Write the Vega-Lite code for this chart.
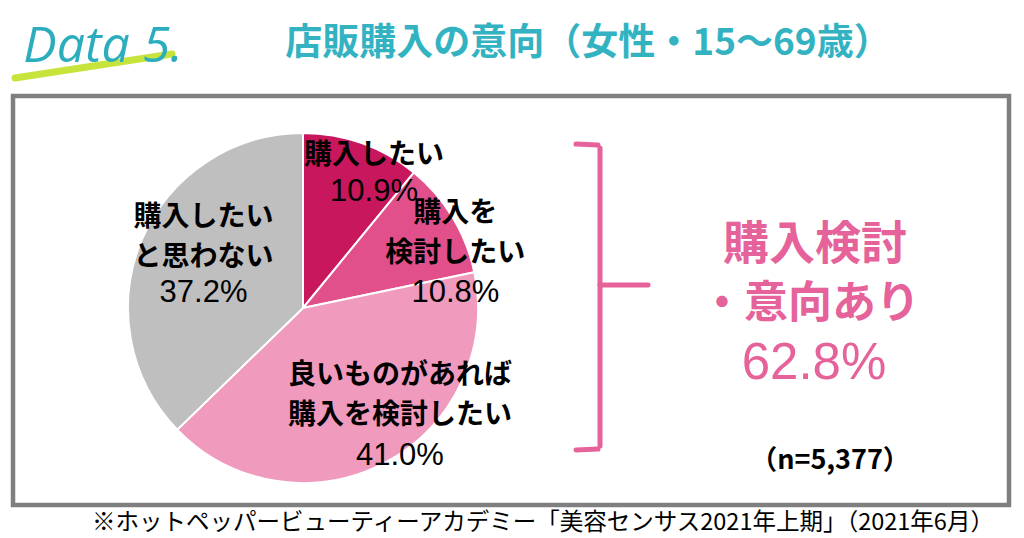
{
  "$schema": "https://vega.github.io/schema/vega-lite/v6.json",
  "width": 1024,
  "height": 538,
  "autosize": {"type": "fit", "contains": "padding"},
  "padding": 0,
  "background": "white",
  "config": {"view": {"stroke": null}, "font": "Noto Sans CJK JP"},
  "datasets": {
    "slices": [
      {"idx": 1, "cat": "購入したい", "lines": ["購入したい"], "share": 0.109},
      {"idx": 2, "cat": "購入を検討したい", "lines": ["購入を", "検討したい"], "share": 0.108},
      {"idx": 3, "cat": "良いものがあれば購入を検討したい", "lines": ["良いものがあれば", "購入を検討したい"], "share": 0.41},
      {"idx": 4, "cat": "購入したいと思わない", "lines": ["購入したい", "と思わない"], "share": 0.372}
    ],
    "one": [{}]
  },
  "layer": [
    {
      "data": {"name": "one"},
      "mark": {"type": "rule", "color": "#c6e43c", "strokeWidth": 7, "strokeCap": "round"},
      "encoding": {
        "x": {"datum": 15, "type": "quantitative", "scale": {"domain": [0, 1024], "nice": false, "zero": false}, "axis": null},
        "y": {"datum": 78, "type": "quantitative", "scale": {"domain": [0, 538], "reverse": true, "nice": false, "zero": false}, "axis": null},
        "x2": {"datum": 172},
        "y2": {"datum": 54}
      }
    },
    {
      "data": {"name": "one"},
      "mark": {"type": "text", "text": "Data 5.", "font": "Open Sans", "fontStyle": "italic", "fontWeight": 400, "fontSize": 50, "color": "#2badbe", "align": "center", "baseline": "alphabetic"},
      "encoding": {
        "x": {"datum": 103, "type": "quantitative", "scale": {"domain": [0, 1024], "nice": false, "zero": false}, "axis": null},
        "y": {"datum": 62, "type": "quantitative", "scale": {"domain": [0, 538], "reverse": true, "nice": false, "zero": false}, "axis": null}
      }
    },
    {
      "data": {"name": "one"},
      "mark": {"type": "text", "text": "店販購入の意向（女性・15～69歳）", "font": "Noto Sans CJK JP", "fontWeight": "bold", "fontSize": 37, "color": "#33b3c2", "align": "center", "baseline": "middle"},
      "encoding": {
        "x": {"datum": 588, "type": "quantitative", "scale": {"domain": [0, 1024], "nice": false, "zero": false}, "axis": null},
        "y": {"datum": 44, "type": "quantitative", "scale": {"domain": [0, 538], "reverse": true, "nice": false, "zero": false}, "axis": null}
      }
    },
    {
      "data": {"name": "one"},
      "mark": {"type": "rect", "filled": false, "stroke": "#7f7f7f", "strokeWidth": 4.5},
      "encoding": {
        "x": {"datum": 13, "type": "quantitative", "scale": {"domain": [0, 1024], "nice": false, "zero": false}, "axis": null},
        "y": {"datum": 96, "type": "quantitative", "scale": {"domain": [0, 538], "reverse": true, "nice": false, "zero": false}, "axis": null},
        "x2": {"datum": 1009},
        "y2": {"datum": 505}
      }
    },
    {
      "data": {"name": "slices"},
      "mark": {"type": "arc", "outerRadius": 175, "stroke": "white", "strokeWidth": 2},
      "encoding": {
        "x": {"datum": 303, "type": "quantitative", "scale": {"domain": [0, 1024], "nice": false, "zero": false}, "axis": null},
        "y": {"datum": 308, "type": "quantitative", "scale": {"domain": [0, 538], "reverse": true, "nice": false, "zero": false}, "axis": null},
        "theta": {"field": "share", "type": "quantitative", "stack": true},
        "order": {"field": "idx", "type": "quantitative"},
        "color": {"field": "cat", "type": "nominal", "legend": null, "scale": {"domain": ["購入したい", "購入を検討したい", "良いものがあれば購入を検討したい", "購入したいと思わない"], "range": ["#c8175d", "#e2508b", "#f09bbe", "#bfbfbf"]}}
      }
    },
    {
      "data": {"name": "slices"},
      "mark": {"type": "text", "radius": 146, "dx": 22, "dy": 0, "font": "Noto Sans CJK JP", "fontWeight": "bold", "fontSize": 28, "lineHeight": 40, "baseline": "bottom", "align": "center", "color": "black"},
      "encoding": {
        "x": {"datum": 303, "type": "quantitative", "scale": {"domain": [0, 1024], "nice": false, "zero": false}, "axis": null},
        "y": {"datum": 308, "type": "quantitative", "scale": {"domain": [0, 538], "reverse": true, "nice": false, "zero": false}, "axis": null},
        "theta": {"field": "share", "type": "quantitative", "stack": true},
        "order": {"field": "idx", "type": "quantitative"},
        "text": {"condition": {"test": "datum.idx === 1", "field": "lines", "type": "nominal"}, "value": ""}
      }
    },
    {
      "data": {"name": "slices"},
      "mark": {"type": "text", "radius": 146, "dx": 22, "dy": 7, "font": "Liberation Sans, Arial", "fontSize": 31, "baseline": "top", "align": "center", "color": "black"},
      "encoding": {
        "x": {"datum": 303, "type": "quantitative", "scale": {"domain": [0, 1024], "nice": false, "zero": false}, "axis": null},
        "y": {"datum": 308, "type": "quantitative", "scale": {"domain": [0, 538], "reverse": true, "nice": false, "zero": false}, "axis": null},
        "theta": {"field": "share", "type": "quantitative", "stack": true},
        "order": {"field": "idx", "type": "quantitative"},
        "text": {"condition": {"test": "datum.idx === 1", "field": "share", "type": "quantitative", "format": ".1%"}, "value": ""}
      }
    },
    {
      "data": {"name": "slices"},
      "mark": {"type": "text", "radius": 149, "dx": 25, "dy": -3, "font": "Noto Sans CJK JP", "fontWeight": "bold", "fontSize": 28, "lineHeight": 40, "baseline": "bottom", "align": "center", "color": "black"},
      "encoding": {
        "x": {"datum": 303, "type": "quantitative", "scale": {"domain": [0, 1024], "nice": false, "zero": false}, "axis": null},
        "y": {"datum": 308, "type": "quantitative", "scale": {"domain": [0, 538], "reverse": true, "nice": false, "zero": false}, "axis": null},
        "theta": {"field": "share", "type": "quantitative", "stack": true},
        "order": {"field": "idx", "type": "quantitative"},
        "text": {"condition": {"test": "datum.idx === 2", "field": "lines", "type": "nominal"}, "value": ""}
      }
    },
    {
      "data": {"name": "slices"},
      "mark": {"type": "text", "radius": 149, "dx": 25, "dy": 47, "font": "Liberation Sans, Arial", "fontSize": 31, "baseline": "top", "align": "center", "color": "black"},
      "encoding": {
        "x": {"datum": 303, "type": "quantitative", "scale": {"domain": [0, 1024], "nice": false, "zero": false}, "axis": null},
        "y": {"datum": 308, "type": "quantitative", "scale": {"domain": [0, 538], "reverse": true, "nice": false, "zero": false}, "axis": null},
        "theta": {"field": "share", "type": "quantitative", "stack": true},
        "order": {"field": "idx", "type": "quantitative"},
        "text": {"condition": {"test": "datum.idx === 2", "field": "share", "type": "quantitative", "format": ".1%"}, "value": ""}
      }
    },
    {
      "data": {"name": "slices"},
      "mark": {"type": "text", "radius": 145, "dx": 29, "dy": -46, "font": "Noto Sans CJK JP", "fontWeight": "bold", "fontSize": 28, "lineHeight": 40, "baseline": "bottom", "align": "center", "color": "black"},
      "encoding": {
        "x": {"datum": 303, "type": "quantitative", "scale": {"domain": [0, 1024], "nice": false, "zero": false}, "axis": null},
        "y": {"datum": 308, "type": "quantitative", "scale": {"domain": [0, 538], "reverse": true, "nice": false, "zero": false}, "axis": null},
        "theta": {"field": "share", "type": "quantitative", "stack": true},
        "order": {"field": "idx", "type": "quantitative"},
        "text": {"condition": {"test": "datum.idx === 3", "field": "lines", "type": "nominal"}, "value": ""}
      }
    },
    {
      "data": {"name": "slices"},
      "mark": {"type": "text", "radius": 145, "dx": 29, "dy": 5, "font": "Liberation Sans, Arial", "fontSize": 31, "baseline": "top", "align": "center", "color": "black"},
      "encoding": {
        "x": {"datum": 303, "type": "quantitative", "scale": {"domain": [0, 1024], "nice": false, "zero": false}, "axis": null},
        "y": {"datum": 308, "type": "quantitative", "scale": {"domain": [0, 538], "reverse": true, "nice": false, "zero": false}, "axis": null},
        "theta": {"field": "share", "type": "quantitative", "stack": true},
        "order": {"field": "idx", "type": "quantitative"},
        "text": {"condition": {"test": "datum.idx === 3", "field": "share", "type": "quantitative", "format": ".1%"}, "value": ""}
      }
    },
    {
      "data": {"name": "slices"},
      "mark": {"type": "text", "radius": 108, "dx": 0, "dy": -34, "font": "Noto Sans CJK JP", "fontWeight": "bold", "fontSize": 28, "lineHeight": 40, "baseline": "bottom", "align": "center", "color": "black"},
      "encoding": {
        "x": {"datum": 303, "type": "quantitative", "scale": {"domain": [0, 1024], "nice": false, "zero": false}, "axis": null},
        "y": {"datum": 308, "type": "quantitative", "scale": {"domain": [0, 538], "reverse": true, "nice": false, "zero": false}, "axis": null},
        "theta": {"field": "share", "type": "quantitative", "stack": true},
        "order": {"field": "idx", "type": "quantitative"},
        "text": {"condition": {"test": "datum.idx === 4", "field": "lines", "type": "nominal"}, "value": ""}
      }
    },
    {
      "data": {"name": "slices"},
      "mark": {"type": "text", "radius": 108, "dx": 0, "dy": 12, "font": "Liberation Sans, Arial", "fontSize": 31, "baseline": "top", "align": "center", "color": "black"},
      "encoding": {
        "x": {"datum": 303, "type": "quantitative", "scale": {"domain": [0, 1024], "nice": false, "zero": false}, "axis": null},
        "y": {"datum": 308, "type": "quantitative", "scale": {"domain": [0, 538], "reverse": true, "nice": false, "zero": false}, "axis": null},
        "theta": {"field": "share", "type": "quantitative", "stack": true},
        "order": {"field": "idx", "type": "quantitative"},
        "text": {"condition": {"test": "datum.idx === 4", "field": "share", "type": "quantitative", "format": ".1%"}, "value": ""}
      }
    },
    {
      "data": {"name": "one"},
      "mark": {"type": "rule", "color": "#e5629a", "strokeWidth": 5, "strokeCap": "round"},
      "encoding": {
        "x": {"datum": 576, "type": "quantitative", "scale": {"domain": [0, 1024], "nice": false, "zero": false}, "axis": null},
        "y": {"datum": 144, "type": "quantitative", "scale": {"domain": [0, 538], "reverse": true, "nice": false, "zero": false}, "axis": null},
        "x2": {"datum": 598},
        "y2": {"datum": 145}
      }
    },
    {
      "data": {"name": "one"},
      "mark": {"type": "rule", "color": "#e5629a", "strokeWidth": 5, "strokeCap": "round"},
      "encoding": {
        "x": {"datum": 600, "type": "quantitative", "scale": {"domain": [0, 1024], "nice": false, "zero": false}, "axis": null},
        "y": {"datum": 148, "type": "quantitative", "scale": {"domain": [0, 538], "reverse": true, "nice": false, "zero": false}, "axis": null},
        "x2": {"datum": 600},
        "y2": {"datum": 446}
      }
    },
    {
      "data": {"name": "one"},
      "mark": {"type": "rule", "color": "#e5629a", "strokeWidth": 5, "strokeCap": "round"},
      "encoding": {
        "x": {"datum": 600, "type": "quantitative", "scale": {"domain": [0, 1024], "nice": false, "zero": false}, "axis": null},
        "y": {"datum": 285, "type": "quantitative", "scale": {"domain": [0, 538], "reverse": true, "nice": false, "zero": false}, "axis": null},
        "x2": {"datum": 648},
        "y2": {"datum": 285}
      }
    },
    {
      "data": {"name": "one"},
      "mark": {"type": "rule", "color": "#e5629a", "strokeWidth": 5, "strokeCap": "round"},
      "encoding": {
        "x": {"datum": 576, "type": "quantitative", "scale": {"domain": [0, 1024], "nice": false, "zero": false}, "axis": null},
        "y": {"datum": 450, "type": "quantitative", "scale": {"domain": [0, 538], "reverse": true, "nice": false, "zero": false}, "axis": null},
        "x2": {"datum": 598},
        "y2": {"datum": 449}
      }
    },
    {
      "data": {"name": "one"},
      "mark": {"type": "text", "text": "購入検討", "font": "Noto Sans CJK JP", "fontWeight": "bold", "fontSize": 46, "color": "#e5629a", "align": "center", "baseline": "middle"},
      "encoding": {
        "x": {"datum": 815, "type": "quantitative", "scale": {"domain": [0, 1024], "nice": false, "zero": false}, "axis": null},
        "y": {"datum": 245, "type": "quantitative", "scale": {"domain": [0, 538], "reverse": true, "nice": false, "zero": false}, "axis": null}
      }
    },
    {
      "data": {"name": "one"},
      "mark": {"type": "text", "text": "・意向あり", "font": "Noto Sans CJK JP", "fontWeight": "bold", "fontSize": 44, "color": "#e5629a", "align": "center", "baseline": "middle"},
      "encoding": {
        "x": {"datum": 810, "type": "quantitative", "scale": {"domain": [0, 1024], "nice": false, "zero": false}, "axis": null},
        "y": {"datum": 305, "type": "quantitative", "scale": {"domain": [0, 538], "reverse": true, "nice": false, "zero": false}, "axis": null}
      }
    },
    {
      "data": {"name": "one"},
      "mark": {"type": "text", "text": "62.8%", "font": "Liberation Sans, Arial", "fontSize": 51, "color": "#e5629a", "align": "center", "baseline": "middle"},
      "encoding": {
        "x": {"datum": 814, "type": "quantitative", "scale": {"domain": [0, 1024], "nice": false, "zero": false}, "axis": null},
        "y": {"datum": 364, "type": "quantitative", "scale": {"domain": [0, 538], "reverse": true, "nice": false, "zero": false}, "axis": null}
      }
    },
    {
      "data": {"name": "one"},
      "mark": {"type": "text", "text": "（n=5,377）", "font": "Noto Sans CJK JP", "fontWeight": "bold", "fontSize": 27, "color": "black", "align": "center", "baseline": "middle"},
      "encoding": {
        "x": {"datum": 830, "type": "quantitative", "scale": {"domain": [0, 1024], "nice": false, "zero": false}, "axis": null},
        "y": {"datum": 461, "type": "quantitative", "scale": {"domain": [0, 538], "reverse": true, "nice": false, "zero": false}, "axis": null}
      }
    },
    {
      "data": {"name": "one"},
      "mark": {"type": "text", "text": "※ホットペッパービューティーアカデミー「美容センサス2021年上期」（2021年6月）", "font": "Noto Sans CJK JP", "fontSize": 23.5, "color": "black", "align": "center", "baseline": "middle"},
      "encoding": {
        "x": {"datum": 543, "type": "quantitative", "scale": {"domain": [0, 1024], "nice": false, "zero": false}, "axis": null},
        "y": {"datum": 523, "type": "quantitative", "scale": {"domain": [0, 538], "reverse": true, "nice": false, "zero": false}, "axis": null}
      }
    }
  ]
}
